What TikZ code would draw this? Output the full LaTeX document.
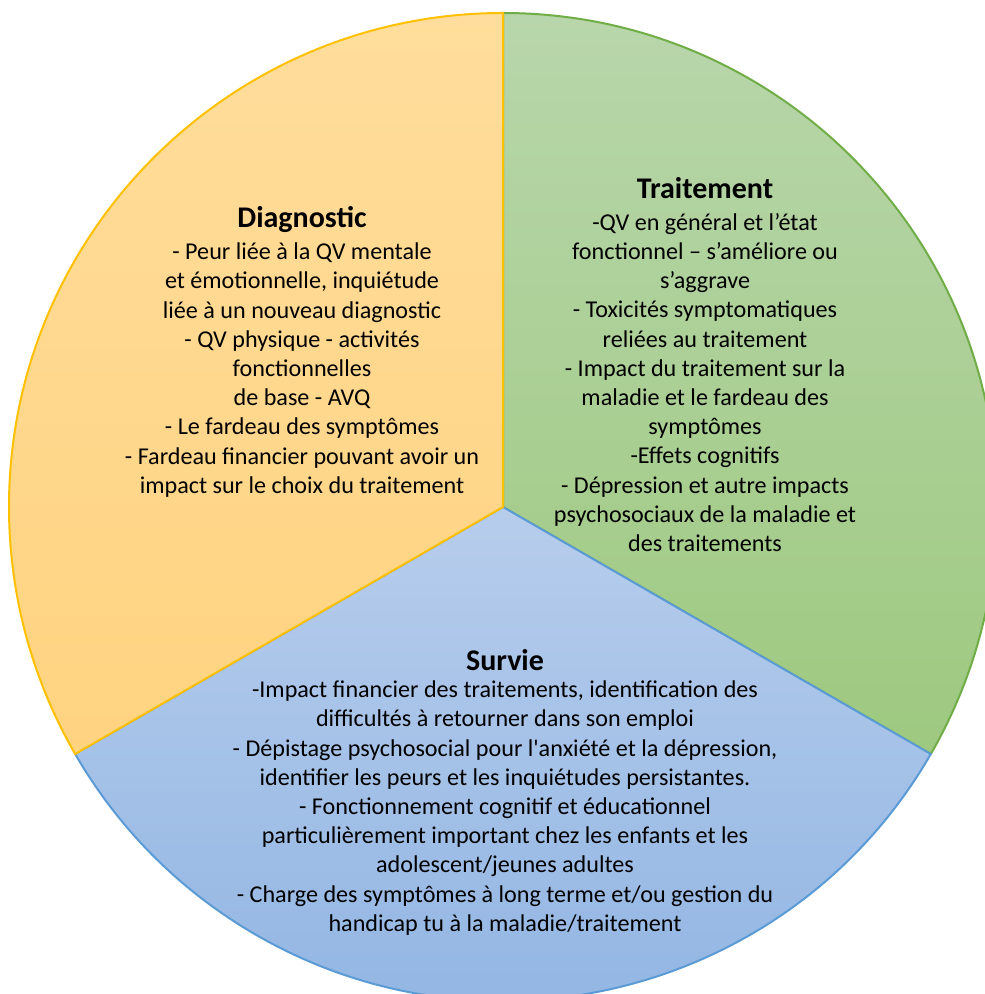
\documentclass[tikz,border=0pt]{standalone}
\usepackage{fontspec}
\setmainfont{Carlito}[Ligatures=TeXOff]

\definecolor{diagline}{RGB}{255,192,0}
\definecolor{diagtop}{RGB}{255,221,156}
\definecolor{diagbot}{RGB}{255,211,128}
\definecolor{traitline}{RGB}{112,173,71}
\definecolor{traittop}{RGB}{184,214,171}
\definecolor{traitbot}{RGB}{158,201,128}
\definecolor{survline}{RGB}{91,155,213}
\definecolor{survtop}{RGB}{183,205,236}
\definecolor{survbot}{RGB}{142,179,226}

\tikzset{every picture/.style={line width=0.75pt}}
\tikzset{
  titletext/.style={font=\fontsize{22.5}{26}\selectfont\bfseries, align=center},
  bodytext/.style={font=\fontsize{18.1}{21.9}\selectfont, align=center}
}

\begin{document}
\begin{tikzpicture}[x=0.75pt,y=0.75pt,yscale=-1,xscale=1]
\useasboundingbox (0,0) rectangle (984,994);

%Shape: Pie [id:traitement] 
\draw  [draw=traitline, line width=1.5pt, top color=traittop, bottom color=traitbot] (503,507) -- (503,13) arc[start angle=-90, end angle=30, radius=494] -- cycle ;
%Shape: Pie [id:survie] 
\draw  [draw=survline, line width=1.5pt, top color=survtop, bottom color=survbot] (503,507) -- (930.82,754) arc[start angle=30, end angle=150, radius=494] -- cycle ;
%Shape: Pie [id:diagnostic] 
\draw  [draw=diagline, line width=1.5pt, top color=diagtop, bottom color=diagbot] (503,507) -- (503,13) arc[start angle=-90, end angle=-210, radius=494] -- cycle ;

%Text Node
\node [titletext] (diagtitle) at (302,219) {Diagnostic};
%Text Node
\node [bodytext] (diagbody) at (302,370) {- Peur liée à la QV mentale\\ et émotionnelle, inquiétude\\ liée à un nouveau diagnostic\\ - QV physique - activités\\ fonctionnelles\\ de base - AVQ\\ - Le fardeau des symptômes\\ - Fardeau financier pouvant avoir un\\ impact sur le choix du traitement};
%Text Node
\node [titletext] (traittitle) at (705,188) {Traitement};
%Text Node
\node [bodytext] (traitbody) at (705,382.5) {-QV en général et l’état\\ fonctionnel – s’améliore ou\\ s’aggrave\\ - Toxicités symptomatiques\\ reliées au traitement\\ - Impact du traitement sur la\\ maladie et le fardeau des\\ symptômes\\ -Effets cognitifs\\ - Dépression et autre impacts\\ psychosociaux de la maladie et\\ des traitements};
%Text Node
\node [titletext] (survtitle) at (505,660) {Survie};
%Text Node
\node [bodytext] (survbody) at (505,808) {-Impact financier des traitements, identification des\\ difficultés à retourner dans son emploi\\ - Dépistage psychosocial pour l'anxiété et la dépression,\\ identifier les peurs et les inquiétudes persistantes.\\ - Fonctionnement cognitif et éducationnel\\ particulièrement important chez les enfants et les\\ adolescent/jeunes adultes\\ - Charge des symptômes à long terme et/ou gestion du\\ handicap tu à la maladie/traitement};

\end{tikzpicture}
\end{document}
